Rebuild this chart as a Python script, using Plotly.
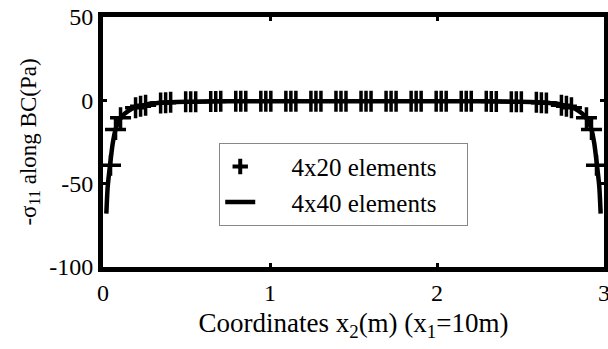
import plotly.graph_objects as go

# 4x40 elements (solid curve)
x40 = [0.02, 0.028, 0.042, 0.058, 0.075, 0.09, 0.11, 0.15, 0.2, 0.25, 0.3, 0.4, 0.5, 0.7, 1.0, 1.5,
       2.0, 2.3, 2.5, 2.6, 2.7, 2.75, 2.8, 2.85, 2.89, 2.91, 2.925, 2.942, 2.958, 2.972, 2.98]
y40 = [-68, -52, -39, -26, -17.5, -13.5, -10, -6.5, -4, -2.7, -1.8, -1.1, -0.8, -0.6, -0.5, -0.5,
       -0.5, -0.6, -0.8, -1.1, -1.8, -2.7, -4, -6.5, -10, -13.5, -17.5, -26, -39, -52, -68]

# 4x20 elements (plus markers)
x20 = [0.045, 0.075, 0.105, 0.195, 0.225, 0.255, 0.345, 0.375, 0.405, 0.495, 0.525, 0.555,
       0.645, 0.675, 0.705, 0.795, 0.825, 0.855, 0.945, 0.975, 1.005, 1.095, 1.125, 1.155,
       1.245, 1.275, 1.305, 1.395, 1.425, 1.455, 1.545, 1.575, 1.605, 1.695, 1.725, 1.755,
       1.845, 1.875, 1.905, 1.995, 2.025, 2.055, 2.145, 2.175, 2.205, 2.295, 2.325, 2.355,
       2.445, 2.475, 2.505, 2.595, 2.625, 2.655, 2.745, 2.775, 2.805, 2.895, 2.925, 2.955]
y20 = [-39, -17.5, -10.5, -4.5, -3.6, -3.0, -1.6, -1.4, -1.2, -0.9, -0.85, -0.8,
       -0.7, -0.65, -0.6, -0.6, -0.55, -0.55, -0.5, -0.5, -0.5, -0.5, -0.5, -0.5,
       -0.5, -0.5, -0.5, -0.5, -0.5, -0.5, -0.5, -0.5, -0.5, -0.5, -0.5, -0.5,
       -0.5, -0.5, -0.5, -0.5, -0.5, -0.5, -0.55, -0.55, -0.6, -0.6, -0.65, -0.7,
       -0.8, -0.85, -0.9, -1.2, -1.4, -1.6, -3.0, -3.6, -4.5, -10.5, -17.5, -39]

xticks = [0, 1, 2, 3]
yticks = [50, 0, -50, -100]

FONT = "Liberation Serif"
PAD_L = "\u200b" + "\u00a0" * 5
PAD_R = "\u00a0" * 4 + "\u200b"

fig = go.Figure()
fig.add_trace(go.Scatter(
    x=x20, y=y20, mode="markers", name="4x20 elements", showlegend=False,
    marker=dict(symbol="cross-thin", size=15, color="black",
                line=dict(color="black", width=3.5)),
))
# legend entry with the smaller, bolder plus seen in the reference legend
fig.add_trace(go.Scatter(
    x=[None], y=[None], mode="markers", name=PAD_L + "4x20 elements" + PAD_R,
    marker=dict(symbol="cross-thin", size=11, color="black",
                line=dict(color="black", width=4)),
))
fig.add_trace(go.Scatter(
    x=x40, y=y40, mode="lines", name=PAD_L + "4x40 elements" + PAD_R,
    line=dict(color="black", width=4.5, shape="spline", smoothing=0.6),
))

axis_common = dict(
    showline=True, linewidth=5, linecolor="black", mirror="ticks",
    ticks="inside", ticklen=4, tickwidth=3, tickcolor="black",
    showgrid=False, zeroline=False, automargin=False,
    ticklabeloverflow="allow",
    tickfont=dict(family=FONT, size=24, color="black"),
)

fig.update_xaxes(range=[0, 3], tickvals=xticks, ticktext=[str(v) for v in xticks],
                 ticklabelstandoff=0,
                 title=dict(text="Coordinates x<sub>2</sub>(m) (x<sub>1</sub>=10m)",
                            font=dict(family=FONT, size=27, color="black"), standoff=10),
                 **axis_common)
fig.update_yaxes(range=[-100, 50], tickvals=yticks, ticktext=[str(v) for v in yticks],
                 ticklabelstandoff=0,
                 title=dict(text="-σ<sub>11</sub> along BC(Pa)",
                            font=dict(family=FONT, size=23, color="black"), standoff=8),
                 **axis_common)

fig.update_layout(
    width=608, height=349,
    margin=dict(l=103, r=4, t=17, b=82),
    plot_bgcolor="white", paper_bgcolor="white",
    showlegend=True,
    legend=dict(x=0.232, y=0.497, xanchor="left", yanchor="top",
                bordercolor="#888888", borderwidth=1, bgcolor="white",
                font=dict(family=FONT, size=25, color="black"),
                tracegroupgap=0),
)

fig.write_html("out.html", config={"displayModeBar": False},
               post_script="document.body.style.margin='0';document.body.style.padding='0';")
